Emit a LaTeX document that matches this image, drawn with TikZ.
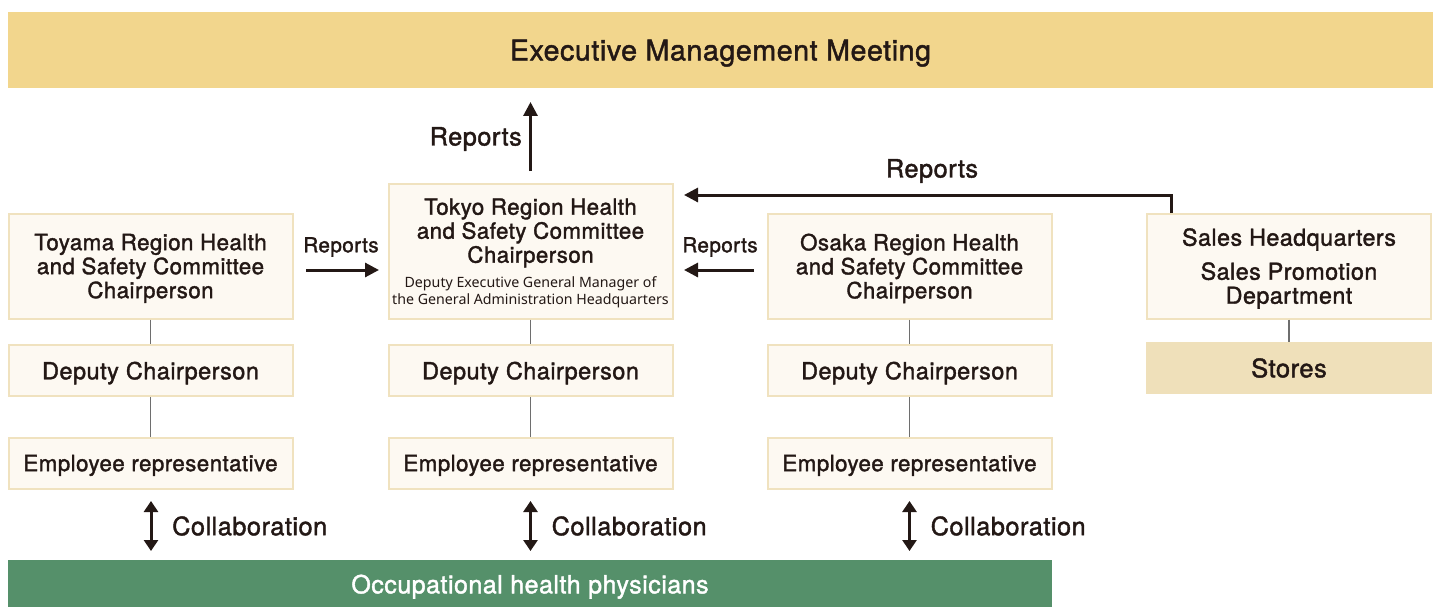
\documentclass[tikz,border=0pt]{standalone}
\usepackage{fontspec}
\setmainfont{TeX Gyre Heros}[FakeBold=1.6, LetterSpace=2]
\newfontfamily\subfont{Noto Sans}
\usetikzlibrary{arrows.meta}
\definecolor{ink}{HTML}{231815}
\definecolor{gold}{HTML}{F2D68D}
\definecolor{boxfill}{HTML}{FDF9F2}
\definecolor{boxline}{HTML}{F0E2BF}
\definecolor{storefill}{HTML}{EFE0BA}
\definecolor{green}{HTML}{55906A}
\definecolor{link}{HTML}{6E6E6E}
\newcommand{\fs}[1]{\fontsize{#1}{24}\selectfont}
\tikzset{
  unit/.style={draw=boxline, line width=2pt, fill=boxfill, minimum width=284pt, align=center, text=ink, inner sep=0pt, text depth=0pt, font=\fs{22.3}},
  rep/.style={-{Triangle[length=14pt,width=14pt]}, line width=3pt, draw=ink},
  collab/.style={{Triangle[length=11pt,width=14pt]}-{Triangle[length=11pt,width=14pt]}, line width=3pt, draw=ink},
  tie/.style={draw=link, line width=1.2pt},
  lbl/.style={text=ink, font=\fs{25.3}, inner sep=0pt},
  slbl/.style={text=ink, font=\fs{20.7}, inner sep=0pt},
}
\begin{document}
\begin{tikzpicture}[x=1pt,y=-1pt]
\useasboundingbox (0,0) rectangle (1437,607);
% top bar
\node[fill=gold, minimum width=1425pt, minimum height=76pt, inner sep=0pt, text=ink, text depth=0pt, font=\fs{28.6}] (exec) at (720.5,50) {Executive Management Meeting};
% green bar
\node[fill=green, minimum width=1044pt, minimum height=48pt, inner sep=0pt, text=white, text depth=0pt, font=\fs{25}] (phys) at (530,584) {Occupational health physicians};
% column 1
\node[unit, minimum height=105pt] (toy) at (150.5,266) {Toyama Region Health\\and Safety Committee\\Chairperson};
\node[unit, minimum height=51pt, font=\fs{23.5}] (toyd) at (150.5,370.5) {Deputy Chairperson};
\node[unit, minimum height=51pt] (toye) at (150.5,463) {Employee representative};
% column 2
\node[unit, minimum height=135pt] (tok) at (530.5,251) {};
\node[text=ink, align=center, font=\fs{22.3}, inner sep=0pt] (tokt) at (530.5,233) {Tokyo Region Health\\and Safety Committee\\Chairperson};
\node[text=ink, align=center, font=\subfont\fontsize{14.2}{17}\selectfont, inner sep=0pt] (toks) at (530.5,292) {Deputy Executive General Manager of\\the General Administration Headquarters};
\node[unit, minimum height=51pt, font=\fs{23.5}] (tokd) at (530.5,370.5) {Deputy Chairperson};
\node[unit, minimum height=51pt] (toke) at (530.5,463) {Employee representative};
% column 3
\node[unit, minimum height=105pt] (osa) at (909.5,266) {Osaka Region Health\\and Safety Committee\\Chairperson};
\node[unit, minimum height=51pt, font=\fs{23.5}] (osad) at (909.5,370.5) {Deputy Chairperson};
\node[unit, minimum height=51pt] (osae) at (909.5,463) {Employee representative};
% column 4
\node[unit, minimum height=105pt, font=\fs{23.3}] (sal) at (1289,266) {Sales Headquarters\\[10pt]Sales Promotion\\Department};
\node[fill=storefill, minimum width=286pt, minimum height=52pt, inner sep=0pt, text=ink, font=\fs{25.5}] (sto) at (1289,368) {Stores};
% ties
\draw[tie] (toy) -- (toyd); \draw[tie] (toyd) -- (toye);
\draw[tie] (tok) -- (tokd); \draw[tie] (tokd) -- (toke);
\draw[tie] (osa) -- (osad); \draw[tie] (osad) -- (osae);
\draw[tie] (sal) -- (sto);
% reports
\coordinate (upA) at (530.5,171);
\coordinate (upB) at (530.5,102);
\draw[rep] (upA) -- (upB);
\node[lbl, anchor=east] (l1) at (522,139) {Reports};
\coordinate (tA) at (306,270); \coordinate (tB) at (379,270);
\draw[rep] (tA) -- (tB);
\node[slbl] (l2) at (341,247) {Reports};
\coordinate (oA) at (754,270); \coordinate (oB) at (684,270);
\draw[rep] (oA) -- (oB);
\node[slbl] (l3) at (720,247) {Reports};
\coordinate (sA) at (1171,213); \coordinate (sB) at (684,195);
\draw[rep] (sA) |- (sB);
\node[lbl] (l4) at (932,171) {Reports};
% collaboration
\foreach \x/\n in {151/a,530.5/b,909.5/c}{
  \coordinate (c1\n) at (\x,501);
  \coordinate (c2\n) at (\x,551);
  \draw[collab] (c1\n) -- (c2\n);
  \node[lbl, anchor=west] (cl\n) at (\x+21,526) {Collaboration};
}
\end{tikzpicture}
\end{document}
